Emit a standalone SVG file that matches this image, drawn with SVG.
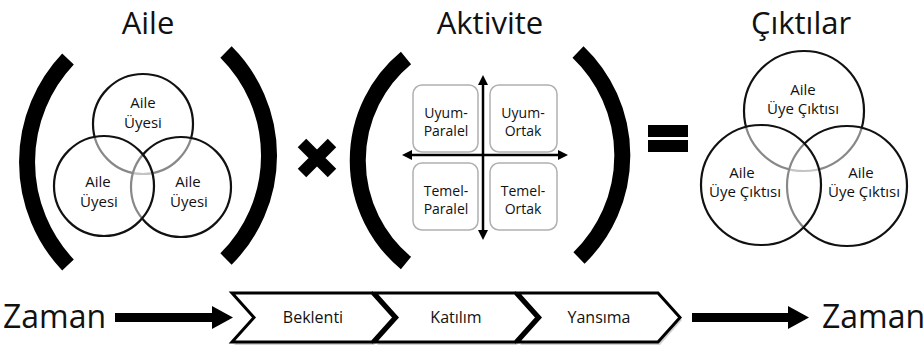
<svg xmlns="http://www.w3.org/2000/svg" width="924" height="347" viewBox="0 0 924 347">
<style>
text{font-family:"Open Sans","Noto Sans",sans-serif;fill:#111}
.title{font-size:31px;text-anchor:middle}
.ct{font-size:15px;text-anchor:middle}
.bt{font-size:14px;text-anchor:middle}
.paren{fill:none;stroke:#000;stroke-width:16;stroke-linecap:butt}
.venn{fill:#fff;fill-opacity:0.5;stroke:#111;stroke-width:2.2}
.box{fill:#fff;stroke:#b0b0b0;stroke-width:1.5}
.chev{fill:#fff;stroke:#000;stroke-width:3;stroke-linejoin:miter}
.shadow{fill:#999;opacity:0.45}
.axis{stroke:#000;stroke-width:2.5}
</style>
<rect width="924" height="347" fill="#fff"/>

<g id="aile">
  <text class="title" x="148" y="34">Aile</text>
  <path class="paren" d="M68,59 A150,150 0 0 0 68,265"/>
  <path class="paren" d="M226,52 A146,146 0 0 1 226,259"/>
  <circle class="venn" cx="143" cy="124" r="50"/>
  <circle class="venn" cx="181" cy="187" r="50"/>
  <circle class="venn" cx="104" cy="186" r="50"/>
  <text class="ct" x="143" y="108">Aile</text>
  <text class="ct" x="143" y="128">Üyesi</text>
  <text class="ct" x="98" y="187">Aile</text>
  <text class="ct" x="99" y="207">Üyesi</text>
  <text class="ct" x="188" y="187">Aile</text>
  <text class="ct" x="189" y="207">Üyesi</text>
</g>

<g id="times">
  <path d="M302,143 L332,173 M332,143 L302,173" stroke="#000" stroke-width="12" stroke-linecap="butt"/>
</g>

<g id="aktivite">
  <text class="title" x="490" y="34">Aktivite</text>
  <path class="paren" d="M406,58 A133,133 0 0 0 406,263"/>
  <path class="paren" d="M578,52 A143,143 0 0 1 579,258"/>
  <rect class="box" x="413" y="85" width="65" height="67" rx="9"/>
  <rect class="box" x="490" y="85" width="67" height="67" rx="9"/>
  <rect class="box" x="413" y="163" width="65" height="67" rx="9"/>
  <rect class="box" x="490" y="163" width="67" height="67" rx="9"/>
  <text class="bt" x="446" y="118">Uyum-</text>
  <text class="bt" x="446" y="136">Paralel</text>
  <text class="bt" x="523" y="118">Uyum-</text>
  <text class="bt" x="523" y="136">Ortak</text>
  <text class="bt" x="446" y="196">Temel-</text>
  <text class="bt" x="446" y="214">Paralel</text>
  <text class="bt" x="523" y="196">Temel-</text>
  <text class="bt" x="523" y="214">Ortak</text>
  <line class="axis" x1="483" y1="82" x2="483" y2="233"/>
  <line class="axis" x1="410" y1="155" x2="560" y2="155"/>
  <polygon points="483,75 478,85 488,85"/>
  <polygon points="483,240 478,230 488,230"/>
  <polygon points="402,155 412,150 412,160"/>
  <polygon points="568,155 558,150 558,160"/>
</g>

<g id="equals">
  <rect x="648" y="125" width="40" height="12"/>
  <rect x="648" y="140" width="40" height="12"/>
</g>

<g id="ciktilar">
  <text class="title" x="801" y="34">Çıktılar</text>
  <circle class="venn" cx="804" cy="111" r="60"/>
  <circle class="venn" cx="847" cy="186" r="60"/>
  <circle class="venn" cx="761" cy="185" r="60"/>
  <text class="ct" x="803" y="95">Aile</text>
  <text class="ct" x="803" y="114">Üye Çıktısı</text>
  <text class="ct" x="742" y="178">Aile</text>
  <text class="ct" x="745" y="197">Üye Çıktısı</text>
  <text class="ct" x="861" y="178">Aile</text>
  <text class="ct" x="864" y="197">Üye Çıktısı</text>
</g>

<g id="zaman-left">
  <text x="3" y="328" font-size="32">Zaman</text>
</g>
<g id="zaman-right">
  <text x="822" y="328" font-size="32">Zaman</text>
</g>

<g id="connectors">
  <rect x="115" y="313" width="99" height="9"/>
  <polygon points="212,306 233,317.5 212,329"/>
  <rect x="692" y="313" width="98" height="9"/>
  <polygon points="788,306 809,317.5 788,329"/>
</g>

<g id="beklenti">
  <polygon class="shadow" points="234,296 374,296 396,320 374,345 234,345 256,320"/>
  <polygon class="chev" points="232,293 372,293 394,317.5 372,342 232,342 254,317.5"/>
  <text x="313" y="323" font-size="16" text-anchor="middle">Beklenti</text>
</g>
<g id="katilim">
  <polygon class="shadow" points="377,296 517,296 539,320 517,345 377,345 399,320"/>
  <polygon class="chev" points="375,293 515,293 537,317.5 515,342 375,342 397,317.5"/>
  <text x="456" y="323" font-size="16" text-anchor="middle">Katılım</text>
</g>
<g id="yansima">
  <polygon class="shadow" points="520,296 660,296 682,320 660,345 520,345 542,320"/>
  <polygon class="chev" points="518,293 658,293 680,317.5 658,342 518,342 540,317.5"/>
  <text x="599" y="323" font-size="16" text-anchor="middle">Yansıma</text>
</g>
</svg>
